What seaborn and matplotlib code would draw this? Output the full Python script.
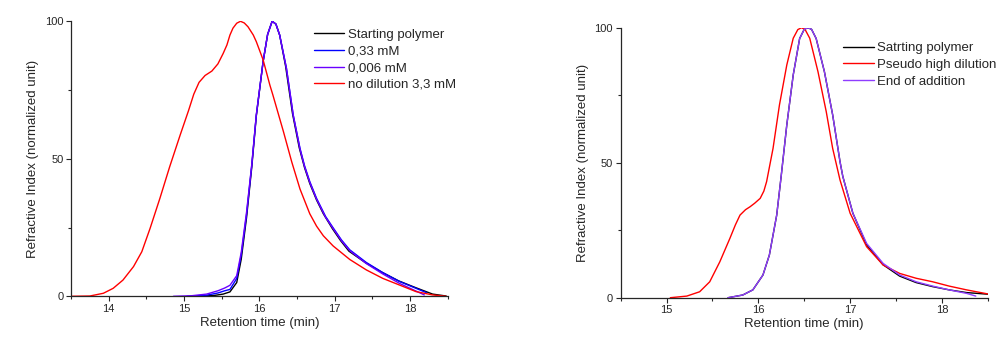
"""GPC traces: retention time vs normalized refractive index."""

import matplotlib.pyplot as plt
import numpy as np
import seaborn as sns

# ---- left panel data ----
left_red_x = [13.5, 13.75, 13.93, 14.06, 14.19, 14.33, 14.44, 14.55, 14.68, 14.81, 14.95,
              15.06, 15.13, 15.2, 15.28, 15.37, 15.45, 15.52, 15.57, 15.61, 15.65, 15.7, 15.75,
              15.8, 15.85, 15.92, 15.96, 16.05, 16.14, 16.18, 16.32, 16.43, 16.54, 16.67,
              16.76, 16.85, 16.98, 17.2, 17.42, 17.64, 17.86, 18.08, 18.3, 18.48]
left_red_y = [0.0, 0.1, 1.1, 2.9, 5.9, 10.8, 16.2, 24.7, 35.6, 47.1, 58.7,
              67.5, 73.5, 77.8, 80.3, 81.9, 84.5, 88.3, 91.4, 95.0, 97.5, 99.3, 100.0,
              99.4, 98.0, 95.0, 92.6, 86.0, 76.8, 73.2, 59.9, 48.9, 39.0, 30.0,
              25.5, 22.0, 18.3, 13.4, 9.6, 6.5, 4.1, 1.7, 0.5, 0.0]

left_black_x = [15.2, 15.4, 15.52, 15.61, 15.7, 15.76, 15.83, 15.9, 15.96, 16.05, 16.11,
                16.17, 16.22, 16.27, 16.35, 16.44, 16.53, 16.6, 16.67, 16.76, 16.85, 16.97,
                17.08, 17.19, 17.41, 17.63, 17.85, 18.07, 18.3, 18.48]
left_black_y = [0.0, 0.3, 0.8, 1.6, 5.0, 13.5, 28.5, 47.0, 65.5, 85.3, 95.2,
                100.0, 99.0, 95.0, 83.5, 66.5, 54.0, 46.8, 41.0, 35.0, 30.0, 24.6,
                20.2, 16.4, 12.2, 8.7, 5.6, 3.2, 0.8, 0.1]

left_blue_x = [15.04, 15.3, 15.45, 15.54, 15.61, 15.7, 15.76, 15.83, 15.9, 15.96, 16.05,
               16.11, 16.17, 16.22, 16.27, 16.36, 16.45, 16.54, 16.6, 16.67, 16.76, 16.88,
               16.98, 17.09, 17.2, 17.42, 17.64, 17.86, 18.08, 18.22]
left_blue_y = [0.0, 0.4, 1.2, 2.0, 2.5, 6.5, 15.0, 29.6, 47.7, 65.9, 85.3,
               95.2, 100.0, 99.0, 95.0, 82.9, 65.9, 53.8, 47.5, 41.7, 35.6, 29.0,
               24.9, 20.5, 16.9, 12.3, 8.6, 5.4, 2.9, 1.3]

left_purple_x = [14.86, 15.1, 15.3, 15.45, 15.54, 15.61, 15.7, 15.76, 15.83, 15.9, 15.96,
                 16.05, 16.11, 16.17, 16.22, 16.27, 16.36, 16.45, 16.54, 16.6, 16.67, 16.76,
                 16.88, 16.98, 17.09, 17.2, 17.42, 17.64, 17.86, 18.08, 18.19]
left_purple_y = [0.0, 0.2, 0.8, 2.0, 3.0, 4.0, 7.5, 16.0, 30.5, 48.0, 66.0,
                 85.3, 95.2, 100.0, 99.0, 95.0, 82.9, 65.9, 53.5, 47.2, 41.4, 35.3,
                 28.7, 24.6, 20.2, 16.6, 11.9, 8.1, 4.7, 1.9, 0.5]

left_labels = ["Starting polymer", "0,33 mM", "0,006 mM", "no dilution 3,3 mM"]
left_colors = ["#000000", "#0000ff", "#6a00ff", "#ff0000"]

# ---- right panel data ----
right_red_x = [15.04, 15.22, 15.36, 15.47, 15.58, 15.69, 15.75, 15.8, 15.86, 15.91, 15.96,
               16.02, 16.06, 16.09, 16.16, 16.23, 16.31, 16.38, 16.43, 16.47, 16.51, 16.56,
               16.65, 16.74, 16.81, 16.89, 17.0, 17.18, 17.36, 17.54, 17.72, 17.9, 18.08,
               18.27, 18.5]
right_red_y = [0.0, 0.6, 2.2, 5.9, 13.3, 22.0, 27.0, 30.6, 32.6, 33.7, 35.0,
               36.8, 39.5, 43.0, 55.3, 71.4, 86.2, 96.1, 99.3, 100.0, 99.3, 96.1,
               83.7, 68.9, 55.3, 43.6, 31.3, 18.9, 12.1, 9.0, 7.2, 5.9, 4.3,
               2.9, 1.4]

right_black_x = [15.67, 15.83, 15.94, 16.05, 16.12, 16.2, 16.25, 16.31, 16.38, 16.45, 16.5,
                 16.54, 16.58, 16.63, 16.72, 16.81, 16.89, 16.92, 17.03, 17.18, 17.36, 17.54,
                 17.72, 17.9, 18.08, 18.27, 18.5]
right_black_y = [0.0, 1.0, 2.9, 8.4, 15.8, 30.6, 45.4, 64.0, 82.5, 96.0, 99.4,
                 100.0, 99.4, 96.0, 83.7, 67.7, 50.4, 45.0, 31.3, 19.6, 12.2, 8.0,
                 5.6, 4.1, 2.9, 1.9, 1.3]

right_purple_x = [15.67, 15.83, 15.94, 16.05, 16.12, 16.2, 16.25, 16.31, 16.38, 16.45, 16.5,
                  16.54, 16.58, 16.63, 16.72, 16.81, 16.89, 16.92, 17.03, 17.18, 17.36, 17.54,
                  17.72, 17.9, 18.08, 18.27, 18.37]
right_purple_y = [0.0, 1.0, 2.9, 8.4, 15.8, 30.6, 45.4, 64.0, 82.5, 96.0, 99.4,
                  100.0, 99.4, 96.0, 83.7, 67.7, 50.4, 45.0, 31.3, 20.1, 12.7, 8.4,
                  5.9, 4.3, 2.9, 1.6, 0.6]

right_labels = ["Satrting polymer", "Pseudo high dilution", "End of addition"]
right_colors = ["#000000", "#ff0000", "#8f3dff"]

sns.set_style("ticks")
plt.rcParams["font.family"] = ["Liberation Sans", "DejaVu Sans"]

fig = plt.figure(figsize=(9.97, 3.38), dpi=100)
ax_l = fig.add_axes([0.0712, 0.1234, 0.3778, 0.8136])
ax_r = fig.add_axes([0.6226, 0.1192, 0.3681, 0.7988])

left_series = [(left_black_x, left_black_y), (left_blue_x, left_blue_y),
               (left_purple_x, left_purple_y), (left_red_x, left_red_y)]
for (xs, ys), label, color in zip(left_series, left_labels, left_colors):
    sns.lineplot(x=xs, y=ys, ax=ax_l, color=color, lw=1.0, label=label, sort=False)

right_series = [(right_black_x, right_black_y), (right_red_x, right_red_y),
                (right_purple_x, right_purple_y)]
for (xs, ys), label, color in zip(right_series, right_labels, right_colors):
    sns.lineplot(x=xs, y=ys, ax=ax_r, color=color, lw=1.0, label=label, sort=False)


def style_axis(ax, xlim, xticks):
    ax.set_xlim(*xlim)
    ax.set_ylim(0, 100)
    ax.set_xticks(xticks)
    ax.set_xticks(np.arange(xlim[0], xlim[1] + 0.01, 0.5), minor=True)
    ax.set_yticks([0, 50, 100])
    ax.set_yticks([25, 75], minor=True)
    ax.tick_params(axis="both", which="major", direction="out", length=3.5, width=0.8,
                   labelsize=8, pad=2)
    ax.tick_params(axis="both", which="minor", direction="out", length=2, width=0.8)
    sns.despine(ax=ax)
    for side in ("left", "bottom"):
        ax.spines[side].set_linewidth(0.9)
    ax.set_xlabel("Retention time (min)", fontsize=9.5, labelpad=2)
    ax.set_ylabel("Refractive Index (normalized unit)", fontsize=9.5, labelpad=4)


style_axis(ax_l, (13.5, 18.5), [14, 15, 16, 17, 18])
style_axis(ax_r, (14.5, 18.5), [15, 16, 17, 18])

ax_l.legend(loc="upper left", bbox_to_anchor=(0.63, 0.992), frameon=False, fontsize=9.5,
            handlelength=2.3, handletextpad=0.3, labelspacing=0.33, borderaxespad=0)
ax_r.legend(loc="upper left", bbox_to_anchor=(0.592, 0.966), frameon=False, fontsize=9.5,
            handlelength=2.3, handletextpad=0.25, labelspacing=0.33, borderaxespad=0)

fig.savefig("out.png", dpi=100)
